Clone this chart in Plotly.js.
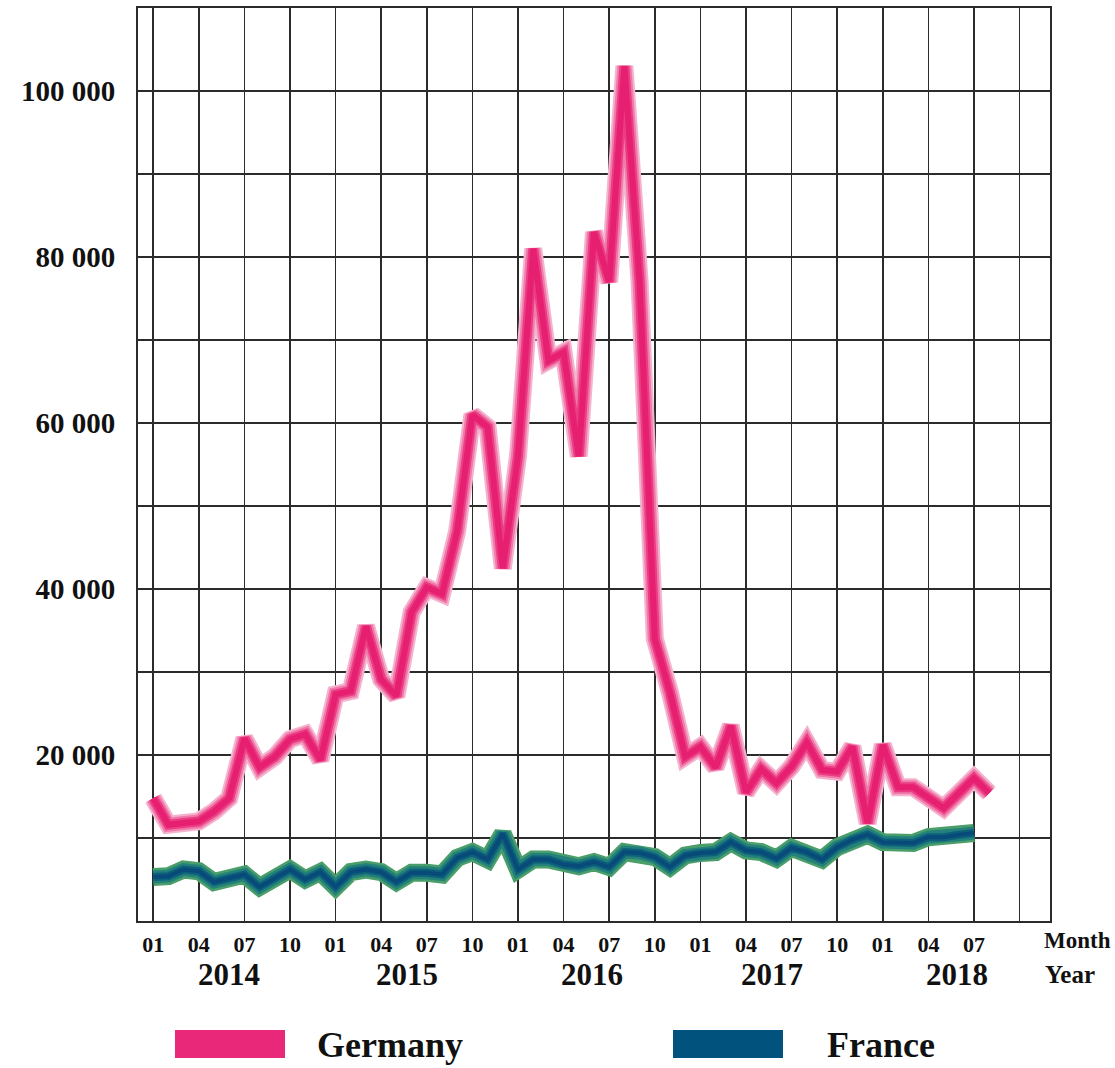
<!DOCTYPE html>
<html>
<head>
<meta charset="utf-8">
<script src="https://cdn.plot.ly/plotly-3.0.1.min.js"></script>
<style>
  html, body { margin: 0; padding: 0; background: #ffffff; }
  #chart { width: 1115px; height: 1068px; }
</style>
</head>
<body>
<div id="chart"></div>
<script>
// ---- data ----
const months = [
  "2014-01","2014-02","2014-03","2014-04","2014-05","2014-06","2014-07","2014-08","2014-09","2014-10","2014-11","2014-12",
  "2015-01","2015-02","2015-03","2015-04","2015-05","2015-06","2015-07","2015-08","2015-09","2015-10","2015-11","2015-12",
  "2016-01","2016-02","2016-03","2016-04","2016-05","2016-06","2016-07","2016-08","2016-09","2016-10","2016-11","2016-12",
  "2017-01","2017-02","2017-03","2017-04","2017-05","2017-06","2017-07","2017-08","2017-09","2017-10","2017-11","2017-12",
  "2018-01","2018-02","2018-03","2018-04","2018-05","2018-06","2018-07","2018-08"
];
const germany = [
  14800, 11600, 11800, 12000, 13200, 14800, 22000, 18500, 19800, 21900, 22500, 19400,
  27300, 27700, 35500, 29100, 27100, 37200, 40200, 39400, 47000, 61000, 59500, 42500,
  56000, 81000, 67500, 68500, 56000, 83000, 77000, 103000, 77000, 34000, 27500, 19800,
  21000, 18500, 23500, 15500, 18300, 16600, 18600, 21500, 18200, 18000, 21000, 11800,
  21200, 16100, 16100, 14900, 13600, 15400, 17200, 15400
];
const france = [
  5300, 5400, 6200, 6000, 4700, 5200, 5600, 4100, 5200, 6200, 5000, 5900,
  4100, 5900, 6200, 5900, 4700, 5800, 5800, 5600, 7600, 8300, 7400, 10500,
  6200, 7400, 7400, 6800, 6600, 7100, 6500, 8300, 8200, 7700, 6500, 7900,
  8200, 8300, 9500, 8500, 8300, 7500, 8800, 8300, 7400, 8900, 9800, 10400,
  9500, 9400, 9400, 10100, 10100, 10400, 10600
];
const monthTickText = ["01", "04", "07", "10"];
const years = ["2014", "2015", "2016", "2017", "2018"];
const yearLabelPos = [5.0, 16.7, 28.9, 40.7, 52.9];   // month offsets where year labels sit
const yTickVals = [0, 10000, 20000, 30000, 40000, 50000, 60000, 70000, 80000, 90000, 100000, 110000];
const seriesNames = ["Germany", "France"];

// ---- helpers ----
function monthIndex(s) {
  const [y, m] = s.split("-").map(Number);
  return (y - 2014) * 12 + (m - 1);
}
const xG = months.slice(0, germany.length).map(monthIndex);
const xF = months.slice(0, france.length).map(monthIndex);

// x ticks: every third month, labels up to 2018-07, empty beyond
const xTickVals = [], xTickText = [];
for (let i = 0; i <= 57; i += 3) {
  xTickVals.push(i);
  xTickText.push(i <= 54 ? monthTickText[(i / 3) % 4] : "");
}
const yTickText = yTickVals.map(v =>
  (v > 0 && v % 20000 === 0 && v <= 100000) ? (v / 1000) + " 000" : "");

const FONT = "Liberation Serif, DejaVu Serif, serif";

function layered(x, y, layers) {
  return layers.map(l => ({
    x: x, y: y, type: "scatter", mode: "lines",
    line: { color: l[0], width: l[1], shape: "linear" },
    hoverinfo: "skip", showlegend: false
  }));
}

const traces = [
  ...layered(xF, france, [["#4a9e6a", 18], ["#23807a", 13], ["#0d6079", 8], ["#084b7a", 4]]),
  ...layered(xG, germany, [["#f5b3cf", 18], ["#f07aa9", 14], ["#ea3d83", 10], ["#e71f71", 6]])
];

const annotations = [];
years.forEach((yr, i) => {
  annotations.push({
    x: yearLabelPos[i], xref: "x", y: -0.059, yref: "paper",
    text: yr, showarrow: false, xanchor: "center", yanchor: "middle",
    font: { family: FONT, size: 31, color: "#111", weight: "bold" }
  });
});
annotations.push({
  x: 1.03, xref: "paper", y: -0.021, yref: "paper", text: "Month",
  showarrow: false, xanchor: "center", yanchor: "middle",
  font: { family: FONT, size: 23, color: "#111", weight: "bold" }
});
annotations.push({
  x: 1.022, xref: "paper", y: -0.059, yref: "paper", text: "Year",
  showarrow: false, xanchor: "center", yanchor: "middle",
  font: { family: FONT, size: 25, color: "#111", weight: "bold" }
});

// legend (drawn as boxes + text below the plot)
const legendColors = ["#e9287a", "#02527e"];
const legendBoxX = [175, 673];
const legendTextX = [315, 825];
const shapes = [];
seriesNames.forEach((name, i) => {
  const px0 = (legendBoxX[i] - 138) / 912, px1 = (legendBoxX[i] + 110 - 138) / 912;
  shapes.push({
    type: "rect", xref: "paper", yref: "paper",
    x0: px0, x1: px1, y0: (921 - 1030) / 913, y1: (921 - 1058) / 913,
    fillcolor: legendColors[i], line: { width: 0 }
  });
  annotations.push({
    x: (legendTextX[i] - 138) / 912, xref: "paper", y: (921 - 1045) / 913, yref: "paper",
    text: name, showarrow: false, xanchor: "left", yanchor: "middle",
    font: { family: FONT, size: 36, color: "#111", weight: "bold" }
  });
});

const layout = {
  width: 1115, height: 1068,
  margin: { l: 138, r: 65, t: 8, b: 147 },
  paper_bgcolor: "#ffffff", plot_bgcolor: "#ffffff",
  showlegend: false,
  xaxis: {
    range: [-1, 59], tickmode: "array", tickvals: xTickVals, ticktext: xTickText,
    showgrid: true, gridcolor: "#2b2b2b", gridwidth: 1.6,
    showline: true, mirror: true, linecolor: "#2b2b2b", linewidth: 2,
    zeroline: false, ticks: "", ticklabelstandoff: 3,
    tickfont: { family: FONT, size: 22, color: "#111", weight: "bold" },
    fixedrange: true
  },
  yaxis: {
    range: [0, 110000], tickmode: "array", tickvals: yTickVals, ticktext: yTickText,
    showgrid: true, gridcolor: "#2b2b2b", gridwidth: 1.6,
    showline: true, mirror: true, linecolor: "#2b2b2b", linewidth: 2,
    zeroline: false, ticks: "", ticklabelstandoff: 15,
    tickfont: { family: FONT, size: 29, color: "#111", weight: "bold" },
    fixedrange: true
  },
  shapes: shapes,
  annotations: annotations
};

Plotly.newPlot("chart", traces, layout, { displayModeBar: false, staticPlot: true });
</script>
</body>
</html>
